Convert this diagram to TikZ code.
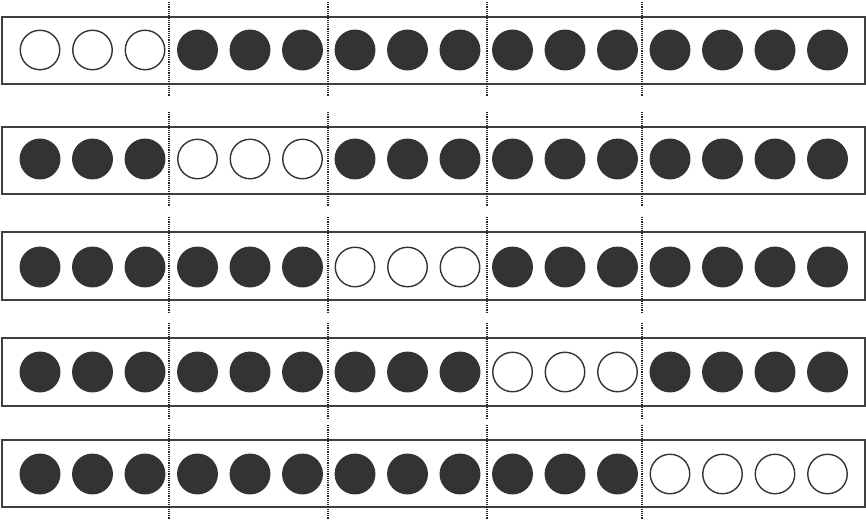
\documentclass[tikz,border=0pt]{standalone}
\begin{document}
\begin{tikzpicture}[x=1pt,y=-1pt,
  box/.style={draw=black!75,line width=1.3pt},
  ball/.style={circle,draw=black!80,line width=1.4pt,minimum size=39.5pt,inner sep=0pt},
  on/.style={ball,fill=black!80},
  off/.style={ball,fill=white},
  sep/.style={draw=black!85,line width=2.6pt,dash pattern=on 1.2pt off 1pt}]
\useasboundingbox (0,0) rectangle (866,522);
% rows: top, bottom, circle centre, first white index, last white index
\foreach \r/\t/\b/\c/\wa/\wb in {1/17/84/50/1/3, 2/127/194/159/4/6, 3/232/300/267/7/9, 4/338/406/372/10/12, 5/440/507/474/13/16}{
  \draw[box] (2,\t) rectangle (865,\b);
  \foreach \i in {1,...,16}{
    \pgfmathsetmacro\xx{40+(\i-1)*52.5}
    \pgfmathparse{(\i>=\wa && \i<=\wb) ? "off" : "on"}
    \node[\pgfmathresult] (c-\r-\i) at (\xx,\c) {};
  }
  \foreach \k/\xs in {1/169,2/328,3/487,4/642}{
    \coordinate (s-\r-\k-a) at (\xs,\t-15);
    \coordinate (s-\r-\k-b) at (\xs,\b+12);
    \draw[sep] (s-\r-\k-a) -- (s-\r-\k-b);
  }
}
\end{tikzpicture}
\end{document}
